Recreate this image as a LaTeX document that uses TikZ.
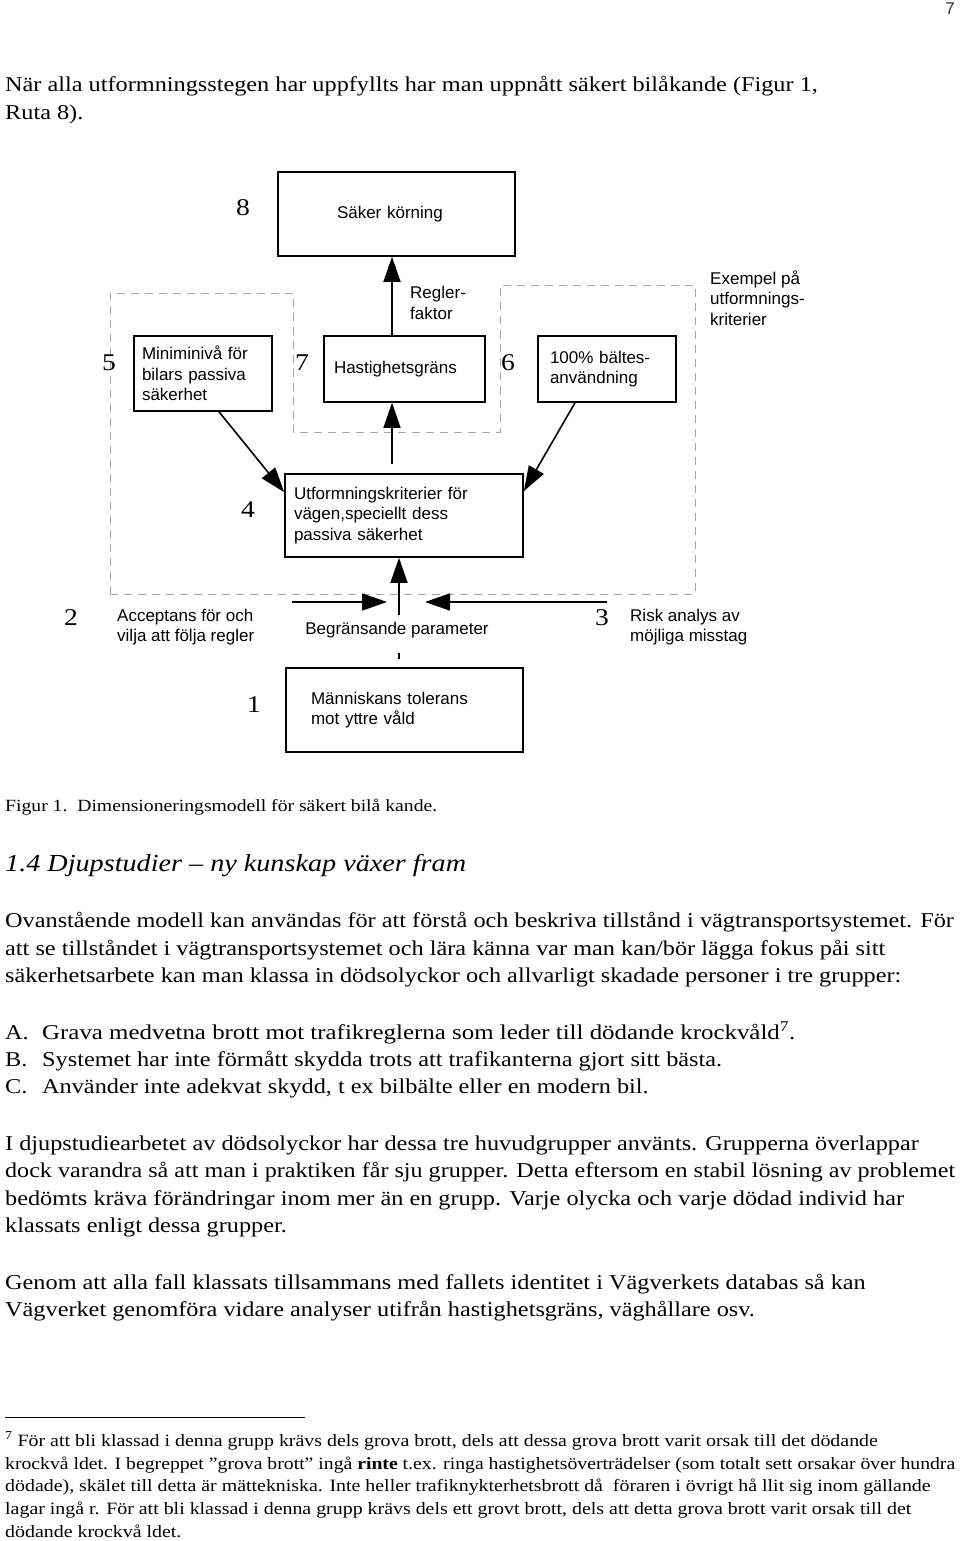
\documentclass[tikz,border=0pt]{standalone}
\usepackage{graphicx}
\usepackage{fontspec}
\setmainfont{Liberation Serif}[FakeStretch=1.15]
\setsansfont{Liberation Sans}
\usetikzlibrary{arrows.meta, positioning}

\newcommand{\diagfont}{\sffamily\fontsize{17}{20.5}\selectfont}
\newcommand{\bodyfont}{\fontsize{21.1}{27}\selectfont}
\newcommand{\fitline}[2]{\resizebox{#1}{\height}{#2}}

\begin{document}
\begin{tikzpicture}[x=1pt, y=-1pt,
  box/.style={draw, line width=1.6pt, font=\diagfont, align=left, inner ysep=0pt},
  num/.style={font=\fontsize{24}{24}\selectfont, inner sep=0pt},
  note/.style={font=\diagfont, align=left, anchor=west, inner sep=0pt},
  line/.style={-{Triangle[length=25pt, width=17pt]}, line width=1.6pt},
  frame/.style={draw=gray!70, dash pattern=on 8pt off 6pt, line width=1pt},
  txt/.style={anchor=base west, inner sep=0pt, font=\bodyfont},
  fn/.style={anchor=base west, inner sep=0pt, font=\fontsize{17.3}{22}\selectfont}
]
\useasboundingbox (0,0) rectangle (960,1541);

% page number and opening lines
\node[anchor=base east, inner sep=0pt, font=\sffamily\fontsize{17}{17}\selectfont, text=black!80] (page) at (955,15) {7};
\node[txt] (p1a) at (5,92) {När alla utformningsstegen har uppfyllts har man uppnått säkert bilåkande (Figur 1,};
\node[txt] (p1b) at (5,120) {Ruta 8).};

% the dashed frame
\draw[frame] (110,594) -- (110,293) -- (293,293) -- (293,432) -- (500,432)
  -- (500,285) -- (695,285) -- (695,594) -- cycle;

% boxes
\node[box, text width=119pt, inner xsep=59pt, minimum height=84pt] (safe) at (396.5,214) {Säker körning};
\node[box, text width=122pt, inner xsep=8pt, minimum height=75pt] (car) at (203,373.5) {Miniminivå för\\bilars passiva\\säkerhet};
\node[box, text width=141pt, inner xsep=10pt, minimum height=66pt] (speed) at (404.5,369) {Hastighetsgräns};
\node[box, text width=114pt, inner xsep=12pt, minimum height=66pt] (belt) at (607,369) {100\% bältes-\\användning};
\node[box, text width=220pt, inner xsep=9pt, minimum height=83pt] (road) at (404,515.5) {Utformningskriterier för\\vägen,speciellt dess\\passiva säkerhet};
\node[box, text width=187pt, inner xsep=25pt, minimum height=84pt] (human) at (404.5,710) {Människans tolerans\\mot yttre våld};

% numbers
\node[num] (n8) at (243,208) {8};
\node[num] (n5) at (109,363) {5};
\node[num] (n7) at (302,363) {7};
\node[num] (n6) at (508,363) {6};
\node[num] (n4) at (248,510) {4};
\node[num] (n2) at (71,618) {2};
\node[num] (n3) at (602,618) {3};
\node[num] (n1) at (254,705) {1};

% labels
\node[note] (rule) at (410,303) {Regler-\\faktor};
\node[note] (example) at (710,298) {Exempel på\\utformnings-\\kriterier};
\node[note] (accept) at (117,627) {Acceptans för och\\vilja att följa regler};
\node[note] (risk) at (630,627) {Risk analys av\\möjliga misstag};
\node[font=\diagfont, inner sep=0pt] (limitlabel) at (397,630) {Begränsande parameter};

% connectors
\draw[line] ([xshift=-12.5pt]speed.north) -- ([xshift=-12.5pt]speed.north |- safe.south);
\draw[line] ([xshift=-12pt, yshift=9pt]road.north) -- ([xshift=-12.5pt]speed.south);
\draw[line] ([xshift=16pt]car.south) -- ([yshift=-19pt]road.north west);
\draw[line] ([xshift=-32pt]belt.south) -- ([yshift=-18pt]road.north east);

\coordinate (limit) at (399,615);
\coordinate (accL) at (292,602);
\coordinate (accR) at (387,602);
\coordinate (riskR) at (607,602);
\coordinate (riskL) at (425,602);
\coordinate (tickT) at (399,653);
\coordinate (tickB) at (399,659);
\draw[line] (limit) -- (limit |- road.south);
\draw[line] (accL) -- (accR);
\draw[line] (riskR) -- (riskL);
\draw[line width=1.6pt] (tickT) -- (tickB);

% caption and heading
\node[anchor=base west, inner sep=0pt, font=\fontsize{17.1}{20}\selectfont] (caption) at (5,811) {Figur 1.\ \ Dimensioneringsmodell för säkert bilå kande.};
\node[anchor=base west, inner sep=0pt, font=\itshape\fontsize{24.5}{30}\selectfont] (heading) at (5,871) {1.4 Djupstudier -- ny kunskap växer fram};

% body text
\node[txt] (q1) at (5,927) {Ovanstående modell kan användas för att förstå och beskriva tillstånd i vägtransportsystemet. För};
\node[txt] (q2) at (5,955) {att se tillståndet i vägtransportsystemet och lära känna var man kan/bör lägga fokus påi sitt};
\node[txt] (q3) at (5,982) {säkerhetsarbete kan man klassa in dödsolyckor och allvarligt skadade personer i tre grupper:};

\node[txt] (la) at (5,1039) {A.};
\node[txt] (lb) at (5,1066) {B.};
\node[txt] (lc) at (5,1093) {C.};
\node[txt] (ta) at (42,1039) {\fitline{753pt}{Grava medvetna brott mot trafikreglerna som leder till dödande krockvåld\textsuperscript{7}.}};
\node[txt] (tb) at (42,1066) {Systemet har inte förmått skydda trots att trafikanterna gjort sitt bästa.};
\node[txt] (tc) at (42,1093) {Använder inte adekvat skydd, t ex bilbälte eller en modern bil.};

\node[txt] (r1) at (5,1150) {I djupstudiearbetet av dödsolyckor har dessa tre huvudgrupper använts. Grupperna överlappar};
\node[txt] (r2) at (5,1177) {\fitline{950pt}{dock varandra så att man i praktiken får sju grupper. Detta eftersom en stabil lösning av problemet}};
\node[txt] (r3) at (5,1205) {bedömts kräva förändringar inom mer än en grupp. Varje olycka och varje dödad individ har};
\node[txt] (r4) at (5,1232) {klassats enligt dessa grupper.};

\node[txt] (s1) at (5,1289) {Genom att alla fall klassats tillsammans med fallets identitet i Vägverkets databas så kan};
\node[txt] (s2) at (5,1316) {Vägverket genomföra vidare analyser utifrån hastighetsgräns, väghållare osv.};

% footnote
\coordinate (ruleL) at (5,1417);
\coordinate (ruleR) at (305,1417);
\draw[line width=0.8pt] (ruleL) -- (ruleR);
\node[fn] (f1) at (5,1446) {\textsuperscript{7} För att bli klassad i denna grupp krävs dels grova brott, dels att dessa grova brott varit orsak till det dödande};
\node[fn] (f2) at (5,1469) {\fitline{950pt}{krockvå ldet. I begreppet ”grova brott” ingå \textbf{rinte} t.ex. ringa hastighetsöverträdelser (som totalt sett orsakar över hundra}};
\node[fn] (f3) at (5,1491) {dödade), skälet till detta är mättekniska. Inte heller trafiknykterhetsbrott då\ \ föraren i övrigt hå llit sig inom gällande};
\node[fn] (f4) at (5,1514) {lagar ingå r. För att bli klassad i denna grupp krävs dels ett grovt brott, dels att detta grova brott varit orsak till det};
\node[fn] (f5) at (5,1537) {dödande krockvå ldet.};
\end{tikzpicture}
\end{document}
